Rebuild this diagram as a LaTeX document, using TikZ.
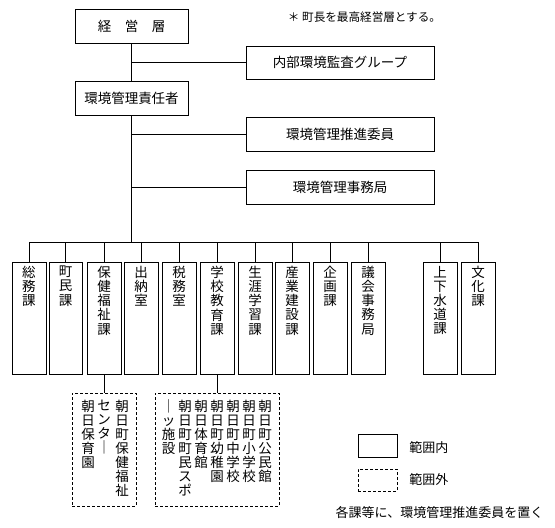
\documentclass[tikz,border=0pt]{standalone}
\usepackage{fontspec}
\setmainfont{Noto Sans CJK JP}
\begin{document}
\begin{tikzpicture}[x=1pt,y=-1pt,line width=0.8pt,
  hb/.style={draw,rectangle,inner sep=0pt,font=\fontsize{13.5}{14}\selectfont},
  vtext/.style={align=center,inner sep=0pt,font=\fontsize{13.5}{14.2}\selectfont},
  vb/.style={draw,rectangle,inner sep=0pt,minimum height=112pt,
    label={[vtext,anchor=north,yshift=-4pt]north:{#1}}},
  db/.style={draw,rectangle,dash pattern=on 3pt off 2pt,inner sep=0pt,minimum height=113pt},
  dtext/.style={align=center,inner sep=0pt,anchor=north,font=\fontsize{13.5}{14}\selectfont},
  lbl/.style={inner sep=0pt,font=\fontsize{13}{14}\selectfont}]
\useasboundingbox (0,0) rectangle (555,528);
% top part
\node[hb,minimum width=113pt,minimum height=34pt] (top) at (131.5,26) {経　営　層};
\node[hb,minimum width=113pt,minimum height=34pt] (resp) at (131.5,98) {環境管理責任者};
\node[hb,minimum width=188pt,minimum height=33pt] (aud) at (340,62.5) {内部環境監査グループ};
\node[hb,minimum width=188pt,minimum height=34pt] (prom) at (340,134) {環境管理推進委員};
\node[hb,minimum width=188pt,minimum height=34pt] (sec) at (340,187) {環境管理事務局};
\node[inner sep=0pt,font=\fontsize{11.6}{13}\selectfont] (note) at (364.5,17) {＊ 町長を最高経営層とする。};
\coordinate (bus) at (131.5,242);
\draw (top) -- (resp);
\draw (aud.west) -- (aud.west -| top.south);
\draw (resp.south) -- (bus);
\draw (prom.west) -- (prom.west -| resp.south);
\draw (sec.west) -- (sec.west -| resp.south);
% departments
\node[vb={総\\務\\課},minimum width=34pt] (b1) at (29,318) {};
\node[vb={町\\民\\課},minimum width=33pt] (b2) at (65.5,318) {};
\node[vb={保\\健\\福\\祉\\課},minimum width=34pt] (b3) at (104,318) {};
\node[vb={出\\納\\室},minimum width=34pt] (b4) at (141,318) {};
\node[vb={税\\務\\室},minimum width=34pt] (b5) at (179,318) {};
\node[vb={学\\校\\教\\育\\課},minimum width=34pt] (b6) at (217,318) {};
\node[vb={生\\涯\\学\\習\\課},minimum width=34pt] (b7) at (255,318) {};
\node[vb={産\\業\\建\\設\\課},minimum width=34pt] (b8) at (292,318) {};
\node[vb={企\\画\\課},minimum width=34pt] (b9) at (330,318) {};
\node[vb={議\\会\\事\\務\\局},minimum width=34pt] (b10) at (368,318) {};
\node[vb={上\\下\\水\\道\\課},minimum width=34pt] (b11) at (440,318) {};
\node[vb={文\\化\\課},minimum width=34pt] (b12) at (478,318) {};
\foreach \b in {b1,b2,b3,b4,b5,b6,b7,b8,b9,b10,b11,b12}
  \draw (\b.north) |- (bus);
% outside scope boxes
\node[db,minimum width=64pt] (d1) at (104,449.5) {};
\node[db,minimum width=124pt] (d2) at (217,449.5) {};
\draw (b3.south) -- (d1.north);
\draw (b6.south) -- (d2.north);
\node[dtext] (d1a) at (122,399.5) {朝\\日\\町\\保\\健\\福\\祉};
\node[dtext] (d1b) at (104,399.5) {セ\\ン\\タ\\｜};
\node[dtext] (d1c) at (88,399.5) {朝\\日\\保\\育\\園};
\node[dtext] (d2a) at (265,399.5) {朝\\日\\町\\公\\民\\館};
\node[dtext] (d2b) at (249,399.5) {朝\\日\\町\\小\\学\\校};
\node[dtext] (d2c) at (233,399.5) {朝\\日\\町\\中\\学\\校};
\node[dtext] (d2d) at (217,399.5) {朝\\日\\町\\幼\\稚\\園};
\node[dtext] (d2e) at (201,399.5) {朝\\日\\体\\育\\館};
\node[dtext] (d2f) at (185,399.5) {朝\\日\\町\\町\\民\\ス\\ポ};
\node[dtext] (d2g) at (168.5,399.5) {｜\\ッ\\施\\設};
% legend
\node[draw,rectangle,inner sep=0pt,minimum width=39pt,minimum height=23pt] (lin) at (377.5,445.5) {};
\node[draw,rectangle,dash pattern=on 3pt off 2pt,inner sep=0pt,minimum width=39pt,minimum height=22pt] (lout) at (377.5,480) {};
\node[lbl,anchor=west] (tin) at (409,448) {範囲内};
\node[lbl,anchor=west] (tout) at (409,480) {範囲外};
\node[lbl] (foot) at (439.5,513) {各課等に、環境管理推進委員を置く};
\end{tikzpicture}
\end{document}
